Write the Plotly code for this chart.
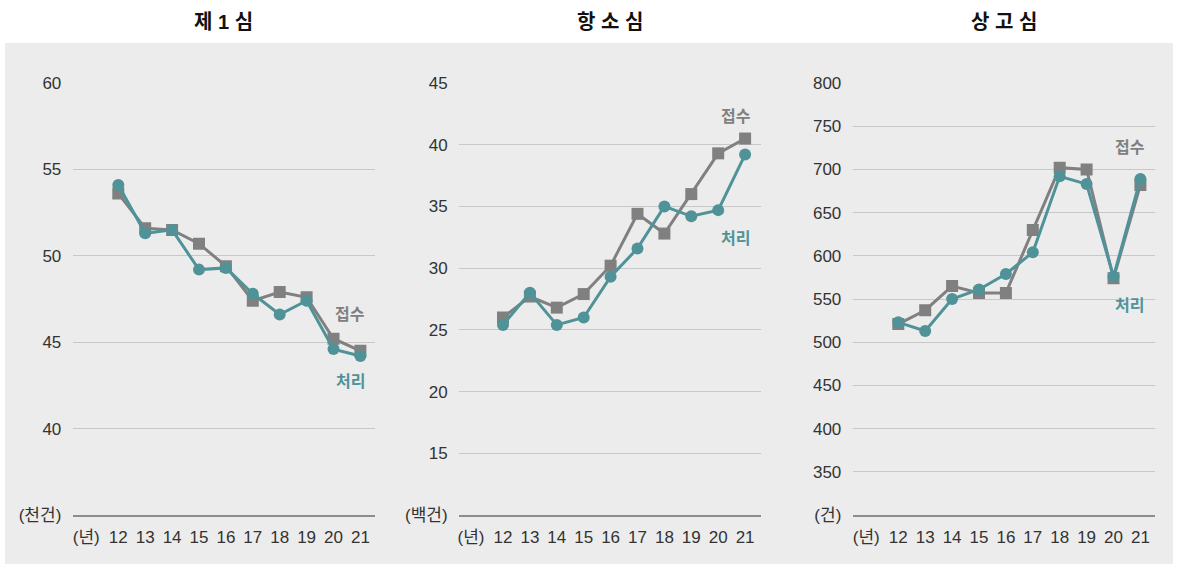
import plotly.graph_objects as go

years = [12, 13, 14, 15, 16, 17, 18, 19, 20, 21]
year_labels = ["12", "13", "14", "15", "16", "17", "18", "19", "20", "21"]

titles = ["제 1 심", "항 소 심", "상 고 심"]
units = ["(천건)", "(백건)", "(건)"]
year_unit = "(년)"

first_filed = [53.6, 51.6, 51.5, 50.7, 49.4, 47.4, 47.9, 47.6, 45.2, 44.5]
first_done = [54.1, 51.3, 51.5, 49.2, 49.3, 47.8, 46.6, 47.4, 44.6, 44.2]

appeal_filed = [26.0, 27.7, 26.8, 27.9, 30.2, 34.4, 32.8, 36.0, 39.3, 40.5]
appeal_done = [25.4, 28.0, 25.4, 26.0, 29.3, 31.6, 35.0, 34.2, 34.7, 39.2]

supreme_filed = [521, 537, 565, 557, 557, 630, 702, 700, 574, 682]
supreme_done = [523, 513, 550, 561, 579, 604, 692, 683, 576, 689]

y_ticks = [
    [35, 40, 45, 50, 55, 60],
    [10, 15, 20, 25, 30, 35, 40, 45],
    [300, 350, 400, 450, 500, 550, 600, 650, 700, 750, 800],
]
y_ranges = [[35, 60], [10, 45], [300, 800]]

label_filed = "접수"
label_done = "처리"

label_pos = [
    (20.63, 46.6, 42.7),
    (20.66, 42.3, 32.4),
    (20.61, 725, 543),
]

W, H = 1178, 564
GREY = "#808080"
TEAL = "#4f9399"
FONT = "Liberation Sans, Noto Sans CJK KR, sans-serif"

panel_px = [(72.7, 375.0, 118.3), (459.0, 761.0, 503.0), (852.7, 1155.3, 898.3)]
px_per_year = 26.9
y_top_px, y_bot_px = 83, 515

series = [
    (first_filed, first_done),
    (appeal_filed, appeal_done),
    (supreme_filed, supreme_done),
]

fig = go.Figure()
layout = dict(
    width=W, height=H,
    margin=dict(l=0, r=0, t=0, b=0, autoexpand=False),
    paper_bgcolor="white",
    plot_bgcolor="rgba(0,0,0,0)",
    showlegend=False,
    font=dict(family=FONT, size=16, color="#333333"),
    shapes=[dict(type="rect", xref="paper", yref="paper",
                 x0=5 / W, x1=1173 / W, y0=0, y1=(H - 43) / H,
                 fillcolor="#ececec", line=dict(width=0), layer="below")],
    annotations=[],
)

for i, (filed, done) in enumerate(series):
    n = "" if i == 0 else str(i + 1)
    xa, ya = "x" + n, "y" + n
    left, right, x12 = panel_px[i]
    x0 = 12 - (x12 - left) / px_per_year
    x1 = 12 + (right - x12) / px_per_year
    fig.add_trace(go.Scatter(
        x=years, y=filed, mode="lines+markers", xaxis=xa, yaxis=ya,
        line=dict(color=GREY, width=3),
        marker=dict(symbol="square", size=12, color=GREY), name=label_filed))
    fig.add_trace(go.Scatter(
        x=years, y=done, mode="lines+markers", xaxis=xa, yaxis=ya,
        line=dict(color=TEAL, width=3),
        marker=dict(symbol="circle", size=12, color=TEAL), name=label_done))

    yvals = y_ticks[i]
    ytext = [units[i]] + [str(v) for v in yvals[1:]]
    layout["xaxis" + n] = dict(
        domain=[left / W, right / W], range=[x0, x1],
        tickvals=[10.81] + years, ticktext=[year_unit] + year_labels,
        ticks="outside", ticklen=6, tickcolor="rgba(0,0,0,0)",
        showgrid=False, zeroline=False, showline=True,
        linecolor="#8c8c8c", linewidth=1.5, anchor=ya, automargin=False,
        tickfont=dict(family=FONT, size=17, color="#333333"),
        fixedrange=True,
    )
    layout["yaxis" + n] = dict(
        domain=[(H - y_bot_px) / H, (H - y_top_px) / H], range=y_ranges[i],
        tickvals=yvals, ticktext=ytext,
        ticks="outside", ticklen=7, tickcolor="rgba(0,0,0,0)",
        showgrid=True, gridcolor="#c8c8c8", gridwidth=1,
        zeroline=False, showline=False, anchor=xa, automargin=False,
        tickfont=dict(family=FONT, size=17, color="#333333"),
        fixedrange=True,
    )
    lx, fy, dy = label_pos[i]
    layout["annotations"].append(dict(
        x=lx, y=fy, xref=xa, yref=ya, text="<b>" + label_filed + "</b>",
        xanchor="center", yanchor="middle",
        showarrow=False, font=dict(family=FONT, size=16, color=GREY)))
    layout["annotations"].append(dict(
        x=lx, y=dy, xref=xa, yref=ya, text="<b>" + label_done + "</b>",
        xanchor="center", yanchor="middle",
        showarrow=False, font=dict(family=FONT, size=16, color=TEAL)))
    layout["annotations"].append(dict(
        x=(left + right) / 2 / W, y=(H - 22) / H, xref="paper", yref="paper",
        xanchor="center", yanchor="middle",
        text="<b>" + titles[i] + "</b>", showarrow=False,
        font=dict(family=FONT, size=20, color="#111111")))

fig.update_layout(**layout)
fig.write_html(
    "out.html",
    config={"displayModeBar": False},
    post_script=(
        "document.documentElement.style.margin='0';"
        "document.body.style.margin='0';document.body.style.padding='0';"
        "document.body.style.overflow='hidden';"
        "var d=document.getElementById('{plot_id}');"
        "d.style.position='absolute';d.style.left='0px';d.style.top='0px';"
    ),
)
